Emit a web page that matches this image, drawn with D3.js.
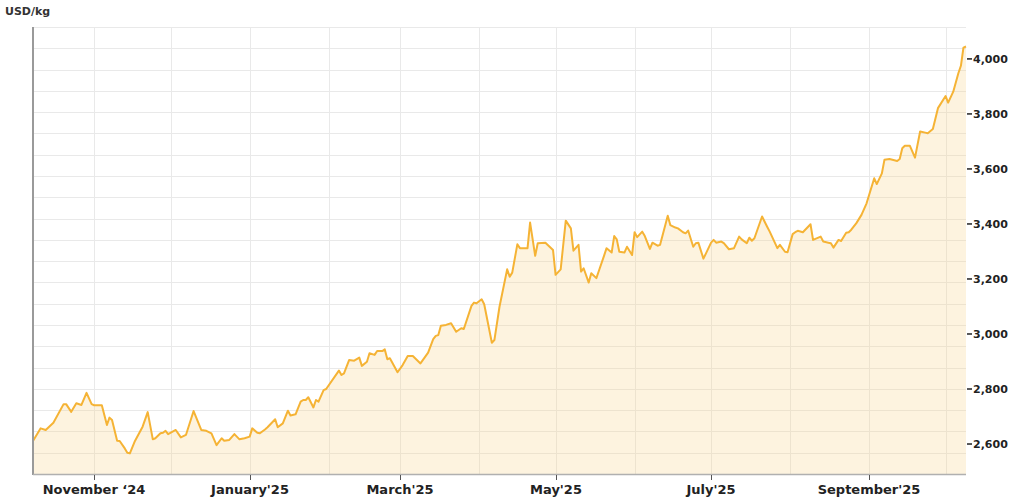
<!DOCTYPE html>
<meta charset="utf-8">
<style>
body { margin: 0; background: #fff; }
svg { display: block; }
.unit { font: bold 11px "DejaVu Sans", sans-serif; fill: #333; }
.xlab { font: bold 13px "DejaVu Sans", sans-serif; fill: #222; }
.ylab { font: bold 11px "DejaVu Sans", sans-serif; fill: #222; }
.grid line { stroke: #e9e9e9; stroke-width: 1px; }
</style>
<body>
<script src="https://d3js.org/d3.v7.min.js"></script>
<script>
// price series
var dates = [
  "2024-10-08","2024-10-11","2024-10-13","2024-10-16","2024-10-20","2024-10-21","2024-10-23","2024-10-25","2024-10-27","2024-10-29",
  "2024-10-31","2024-11-01","2024-11-04","2024-11-06","2024-11-07","2024-11-08","2024-11-10","2024-11-11","2024-11-13","2024-11-14",
  "2024-11-15","2024-11-17","2024-11-20","2024-11-22","2024-11-24","2024-11-25","2024-11-27","2024-11-28","2024-11-29","2024-11-30",
  "2024-12-03","2024-12-05","2024-12-07","2024-12-10","2024-12-13","2024-12-15","2024-12-17","2024-12-19","2024-12-21","2024-12-22",
  "2024-12-24","2024-12-26","2024-12-28","2024-12-30","2025-01-01","2025-01-02","2025-01-04","2025-01-05","2025-01-07","2025-01-08",
  "2025-01-11","2025-01-12","2025-01-14","2025-01-16","2025-01-17","2025-01-19","2025-01-21","2025-01-22","2025-01-23","2025-01-24",
  "2025-01-26","2025-01-27","2025-01-28","2025-01-30","2025-01-31","2025-02-05","2025-02-06","2025-02-07","2025-02-09","2025-02-11",
  "2025-02-13","2025-02-14","2025-02-16","2025-02-17","2025-02-19","2025-02-20","2025-02-22","2025-02-23","2025-02-24","2025-02-25",
  "2025-02-28","2025-03-02","2025-03-04","2025-03-06","2025-03-09","2025-03-12","2025-03-14","2025-03-15","2025-03-16","2025-03-17",
  "2025-03-19","2025-03-21","2025-03-23","2025-03-25","2025-03-26","2025-03-29","2025-03-30","2025-03-31","2025-04-02","2025-04-03",
  "2025-04-06","2025-04-07","2025-04-09","2025-04-12","2025-04-13","2025-04-14","2025-04-16","2025-04-17","2025-04-20","2025-04-21",
  "2025-04-23","2025-04-24","2025-04-27","2025-04-30","2025-05-01","2025-05-03","2025-05-05","2025-05-07","2025-05-08","2025-05-10",
  "2025-05-11","2025-05-12","2025-05-14","2025-05-15","2025-05-17","2025-05-18","2025-05-20","2025-05-21","2025-05-23","2025-05-24",
  "2025-05-25","2025-05-26","2025-05-28","2025-05-29","2025-05-31","2025-06-01","2025-06-02","2025-06-04","2025-06-05","2025-06-07",
  "2025-06-08","2025-06-10","2025-06-11","2025-06-14","2025-06-15","2025-06-17","2025-06-18","2025-06-20","2025-06-21","2025-06-22",
  "2025-06-24","2025-06-25","2025-06-26","2025-06-28","2025-06-29","2025-07-01","2025-07-02","2025-07-03","2025-07-05","2025-07-06",
  "2025-07-08","2025-07-10","2025-07-12","2025-07-13","2025-07-15","2025-07-16","2025-07-17","2025-07-18","2025-07-21","2025-07-23",
  "2025-07-24","2025-07-27","2025-07-28","2025-07-30","2025-07-31","2025-08-02","2025-08-03","2025-08-04","2025-08-06","2025-08-09",
  "2025-08-10","2025-08-13","2025-08-14","2025-08-16","2025-08-17","2025-08-18","2025-08-20","2025-08-21","2025-08-23","2025-08-24",
  "2025-08-25","2025-08-27","2025-08-29","2025-08-31","2025-09-03","2025-09-04","2025-09-06","2025-09-07","2025-09-09","2025-09-12",
  "2025-09-13","2025-09-14","2025-09-15","2025-09-17","2025-09-19","2025-09-21","2025-09-23","2025-09-24","2025-09-26","2025-09-28",
  "2025-10-01","2025-10-02","2025-10-04","2025-10-06","2025-10-07","2025-10-08","2025-10-09"
];
var prices = [
  2611,2657,2651,2677,2745,2745,2717,2748,2742,2786,
  2745,2741,2741,2669,2696,2687,2612,2611,2584,2568,
  2566,2611,2663,2716,2617,2621,2639,2641,2648,2636,
  2651,2624,2633,2720,2651,2648,2639,2596,2621,2612,
  2615,2636,2617,2621,2627,2657,2641,2639,2653,2661,
  2690,2661,2675,2721,2704,2708,2754,2760,2760,2770,
  2733,2760,2754,2796,2800,2867,2851,2857,2905,2903,
  2914,2884,2899,2930,2924,2938,2938,2944,2908,2912,
  2861,2887,2920,2920,2893,2932,2981,2993,2996,3030,
  3033,3039,3008,3021,3018,3102,3114,3112,3126,3108,
  2968,2978,3099,3235,3208,3223,3326,3312,3312,3405,
  3284,3330,3332,3305,3215,3235,3412,3384,3303,3324,
  3227,3239,3187,3221,3203,3230,3284,3312,3296,3356,
  3344,3299,3296,3317,3287,3370,3352,3372,3356,3309,
  3332,3321,3324,3430,3396,3387,3384,3370,3366,3376,
  3317,3330,3332,3274,3293,3332,3342,3332,3336,3330,
  3308,3312,3354,3344,3330,3350,3339,3348,3427,3390,
  3372,3312,3324,3299,3297,3363,3370,3375,3370,3399,
  3342,3354,3336,3332,3330,3314,3342,3338,3368,3370,
  3379,3403,3433,3475,3566,3545,3584,3633,3636,3629,
  3636,3675,3684,3684,3641,3736,3732,3730,3745,3821,
  3865,3841,3881,3948,3975,4041,4045
];
var yTicks = [2600, 2800, 3000, 3200, 3400, 3600, 3800, 4000];
var xTickDates = ["2024-11-01","2025-01-01","2025-03-01","2025-05-01","2025-07-01","2025-09-01"];
var xTickLabels = ["November \u201824","January'25","March'25","May'25","July'25","September'25"];
var unitLabel = "USD/kg";

var W = 1024, H = 502;
var plotL = 33, plotR = 966, plotT = 27, plotB = 474;
var hGridCount = 21;

var parse = d3.utcParse("%Y-%m-%d");
var data = dates.map(function(d, i) { return {date: parse(d), price: prices[i]}; });

var x = d3.scaleUtc()
    .domain([parse("2024-10-08"), parse("2025-10-09")])
    .range([plotL, plotR]);
var y = d3.scaleLinear()
    .domain([2491, 4116])
    .range([plotB, plotT]);

var svg = d3.select("body").append("svg")
    .attr("width", W)
    .attr("height", H);

// grid
var grid = svg.append("g").attr("class", "grid");
grid.selectAll(".h")
    .data(d3.range(hGridCount + 1))
    .enter().append("line")
    .attr("x1", plotL).attr("x2", plotR)
    .attr("y1", function(i) { return Math.round(plotT + i * (plotB - plotT) / hGridCount) + 0.5; })
    .attr("y2", function(i) { return Math.round(plotT + i * (plotB - plotT) / hGridCount) + 0.5; });
grid.selectAll(".v")
    .data(d3.utcMonth.range(parse("2024-11-01"), parse("2025-10-02")))
    .enter().append("line")
    .attr("x1", function(d) { return Math.round(x(d)) + 0.5; })
    .attr("x2", function(d) { return Math.round(x(d)) + 0.5; })
    .attr("y1", plotT).attr("y2", plotB);

// area + line
var area = d3.area()
    .x(function(d) { return x(d.date); })
    .y0(plotB)
    .y1(function(d) { return y(d.price); });
var line = d3.line()
    .x(function(d) { return x(d.date); })
    .y(function(d) { return y(d.price); });

svg.append("path")
    .datum(data)
    .attr("d", area)
    .attr("fill", "rgba(250,215,150,0.3)");
svg.append("path")
    .datum(data)
    .attr("d", line)
    .attr("fill", "none")
    .attr("stroke", "#f5b335")
    .attr("stroke-width", 2)
    .attr("stroke-linejoin", "round");

// axis lines
svg.append("line")
    .attr("x1", plotL).attr("x2", plotL)
    .attr("y1", plotT).attr("y2", plotB + 1)
    .attr("stroke", "#9a9a9a").attr("stroke-width", 2);
svg.append("line")
    .attr("x1", plotL).attr("x2", plotR)
    .attr("y1", plotB + 0.5).attr("y2", plotB + 0.5)
    .attr("stroke", "#b0b0b0").attr("stroke-width", 1.5);

// x ticks
var xt = svg.append("g").selectAll("g")
    .data(xTickDates)
    .enter().append("g")
    .attr("transform", function(d) { return "translate(" + Math.round(x(parse(d))) + ",0)"; });
xt.append("line")
    .attr("x1", 0.5).attr("x2", 0.5)
    .attr("y1", plotB + 1).attr("y2", plotB + 6)
    .attr("stroke", "#555").attr("stroke-width", 1);
xt.append("text")
    .attr("class", "xlab")
    .attr("y", 494)
    .attr("text-anchor", "middle")
    .text(function(d, i) { return xTickLabels[i]; });

// y ticks (right side)
var yt = svg.append("g").selectAll("g")
    .data(yTicks)
    .enter().append("g")
    .attr("transform", function(d) { return "translate(0," + y(d) + ")"; });
yt.append("line")
    .attr("x1", plotR + 1).attr("x2", plotR + 6)
    .attr("stroke", "#222").attr("stroke-width", 1.5);
yt.append("text")
    .attr("class", "ylab")
    .attr("x", plotR + 7)
    .attr("dy", "0.36em")
    .text(function(d) { return d3.format(",")(d); });

svg.append("text")
    .attr("class", "unit")
    .attr("x", 5)
    .attr("y", 15)
    .text(unitLabel);
</script>
</body>
